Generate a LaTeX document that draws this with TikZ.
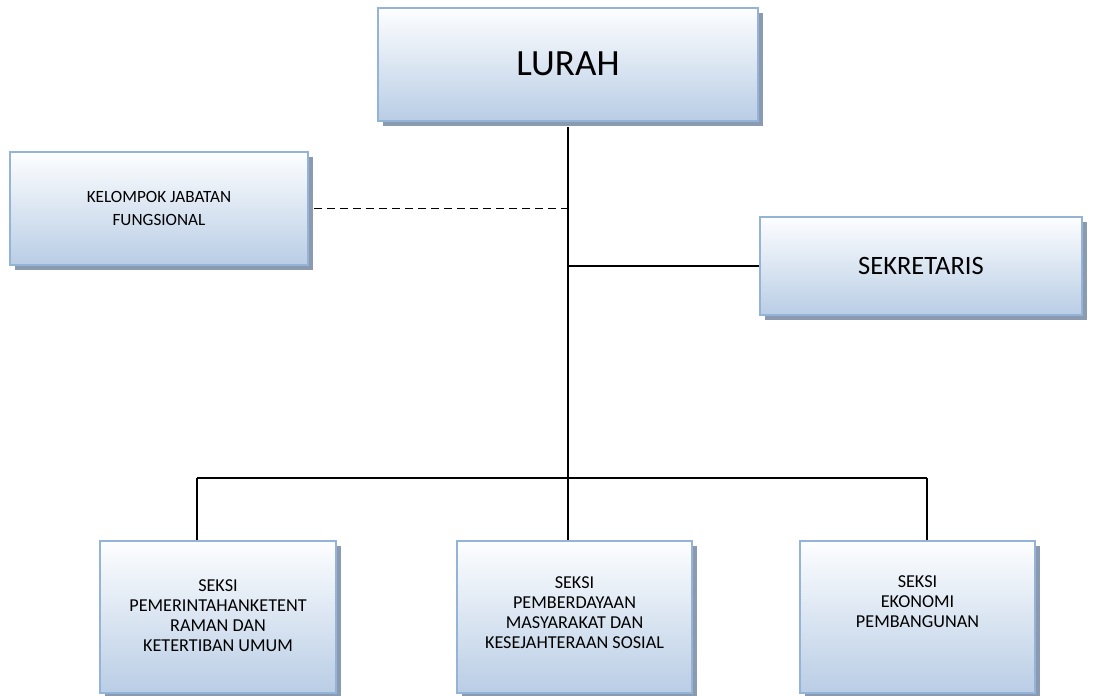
\documentclass[tikz,border=0pt]{standalone}
\usepackage{fontspec}
\setmainfont{Carlito}
\definecolor{boxtop}{HTML}{FDFEFF}
\definecolor{boxbot}{HTML}{B9CDE5}
\definecolor{boxedge}{HTML}{95B3D7}
\definecolor{shadowc}{HTML}{8A9AB0}
\begin{document}
\begin{tikzpicture}[x=1pt,y=-1pt,
  orgbox/.style={rectangle, draw=boxedge, line width=2pt, top color=boxtop, bottom color=boxbot,
    inner sep=0pt, align=center, text=black,
    preaction={fill=shadowc, transform canvas={xshift=4.5pt,yshift=-4.5pt}}},
  conn/.style={line width=1.4pt, black},
  lbl/.style={align=center, inner sep=0pt, font=\fontsize{18.2}{20}\selectfont}]
\useasboundingbox (0,0) rectangle (1093,696);
% boxes
\node[orgbox, minimum width=380pt, minimum height=113pt, font=\fontsize{37}{40}\selectfont] (L) at (568,64.5) {\raisebox{2pt}{LURAH}};
\node[orgbox, minimum width=298pt, minimum height=113pt, font=\fontsize{17.2}{23}\selectfont] (K) at (159,208.5) {KELOMPOK JABATAN\\FUNGSIONAL};
\node[orgbox, minimum width=322pt, minimum height=98pt, font=\fontsize{26.5}{29}\selectfont] (S) at (921,266) {SEKRETARIS};
\node[orgbox, minimum width=236pt, minimum height=152pt] (B1) at (218,617) {};
\node[orgbox, minimum width=235pt, minimum height=152pt] (B2) at (574.5,617) {};
\node[orgbox, minimum width=235pt, minimum height=152pt] (B3) at (917.5,617) {};
% texts of bottom boxes
\node[lbl, anchor=north] (T1) at ([yshift=-39pt]B1.north) {SEKSI\\PEMERINTAHANKETENT\\RAMAN DAN\\KETERTIBAN UMUM};
\node[lbl, anchor=north] (T2) at ([yshift=-36pt]B2.north) {SEKSI\\PEMBERDAYAAN\\MASYARAKAT DAN\\KESEJAHTERAAN SOSIAL};
\node[lbl, anchor=north] (T3) at ([yshift=-35pt]B3.north) {SEKSI\\EKONOMI\\PEMBANGUNAN};
% junctions
\coordinate (J) at (568,478);
\coordinate (P1) at (197,478);
\coordinate (P3) at (927,478);
% connectors
\draw[conn] ([yshift=-5pt]L.south) -- (J);
\draw[conn] (P1) -- (P3);
\draw[conn] (P1) -- (P1 |- B1.north);
\draw[conn] (J) -- (J |- B2.north);
\draw[conn] (P3) -- (P3 |- B3.north);
\draw[conn] (S.west -| J) -- (S.west);
\draw[conn, line width=1.4pt, dash pattern=on 8pt off 5pt] ([xshift=5pt]K.east) -- (K.east -| J);
\end{tikzpicture}
\end{document}
